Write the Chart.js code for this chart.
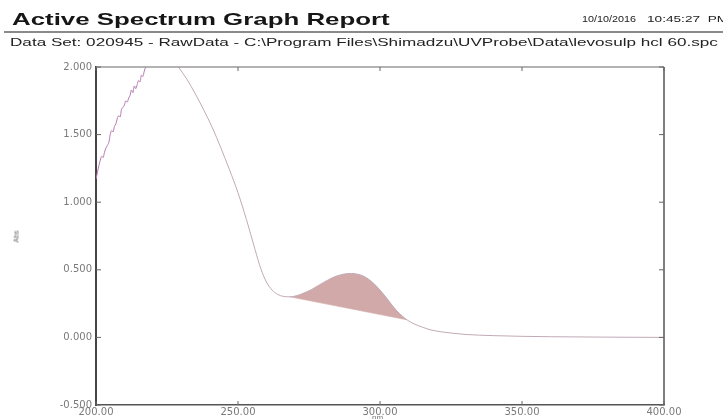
<!DOCTYPE html>
<html>
<head>
<meta charset="utf-8">
<script src="https://cdn.jsdelivr.net/npm/chart.js@4.4.0/dist/chart.umd.min.js"></script>
<style>
body { margin: 0; width: 723px; height: 419px; overflow: hidden; background: #fff; position: relative; font-family: "Liberation Sans", Arial, sans-serif; }
#spectrum { position: absolute; left: 0; top: 0; }
.txt { position: absolute; white-space: nowrap; transform-origin: 0 50%; line-height: 1; }
#rule { position: absolute; left: 4px; top: 31px; width: 723px; height: 2px; background: #8a8a8a; }
</style>
</head>
<body>
<canvas id="spectrum" width="723" height="419"></canvas>
<div class="txt" id="title" style="left:12px;top:11px;font-size:17px;font-weight:bold;color:#161616">Active Spectrum Graph Report</div>
<div class="txt" id="date1" style="left:582px;top:15px;font-size:9px;color:#222">10/10/2016</div>
<div class="txt" id="date2" style="left:647px;top:15px;font-size:9px;color:#222"><span id="time">10:45:27</span>&nbsp; PM</div>
<div id="rule"></div>
<div class="txt" id="dataset" style="left:10px;top:37px;font-size:11px;color:#222">Data Set: 020945 - RawData - C:\Program Files\Shimadzu\UVProbe\Data\levosulp hcl 60.spc</div>
<div class="txt" id="ylab" style="left:10px;top:233px;font-size:7px;color:#666;transform:rotate(-90deg);transform-origin:50% 50%">Abs</div>
<div class="txt" id="xlab" style="left:372px;top:414px;font-size:8px;color:#777">nm</div>
<script>
// spectrum (nm, Abs)
var wavelength = [200, 200.5, 201, 201.5, 202, 202.5, 203, 203.5, 204, 204.5, 205, 205.5, 206, 206.5, 207, 207.5, 208, 208.5, 209, 209.5,
    210, 210.5, 211, 211.5, 212, 212.5, 213, 213.5, 214, 214.5, 215, 215.5, 216, 216.5, 217, 217.5,
    218, 220, 223, 226, 228, 229, 232, 235, 238, 241, 244, 247, 250, 253, 256, 258, 260, 262, 264, 266,
    268.3, 270, 272, 274, 276, 278, 280, 282, 284, 286, 288, 290, 292, 294, 296, 298, 300, 302, 304, 306, 308, 309.5,
    312, 315, 318, 322, 326, 330, 340, 350, 360, 380, 400];
var absorbance = [1.17, 1.22, 1.27, 1.31, 1.34, 1.33, 1.37, 1.40, 1.42, 1.44, 1.50, 1.53, 1.52, 1.56, 1.58, 1.62, 1.64, 1.63, 1.69, 1.70,
    1.72, 1.75, 1.74, 1.77, 1.79, 1.83, 1.81, 1.86, 1.84, 1.87, 1.90, 1.89, 1.94, 1.93, 1.97, 2.00,
    2.03, 2.08, 2.12, 2.08, 2.03, 2.00, 1.91, 1.80, 1.68, 1.55, 1.40, 1.24, 1.07, 0.87, 0.65, 0.51, 0.41, 0.35, 0.318, 0.303,
    0.30, 0.305, 0.318, 0.335, 0.355, 0.38, 0.405, 0.428, 0.448, 0.462, 0.47, 0.473, 0.468, 0.455, 0.43, 0.395, 0.35, 0.30, 0.245, 0.195, 0.155, 0.13,
    0.10, 0.075, 0.055, 0.04, 0.03, 0.022, 0.013, 0.008, 0.005, 0.002, 0.0];

// peak baseline
var baseWl = [268.3, 309.5];
var baseAbs = [0.30, 0.13];

var xTicks = [200, 250, 300, 350, 400];
var yTicks = [-0.5, 0, 0.5, 1, 1.5, 2];

function fit(id, w) {
    var el = document.getElementById(id);
    el.style.transform = 'scaleX(' + (w / el.offsetWidth) + ')';
}
fit('title', 377);
fit('dataset', 708);
fit('date1', 54);
document.getElementById('date2').style.transform = 'scaleX(' + (53 / document.getElementById('time').offsetWidth) + ')';

var spectrumPts = wavelength.map(function (x, i) { return { x: x, y: absorbance[i] }; });
var peakPts = spectrumPts.filter(function (p) { return p.x >= baseWl[0] && p.x <= baseWl[1]; });
var basePts = baseWl.map(function (x, i) { return { x: x, y: baseAbs[i] }; });

var frame = {
    id: 'frame',
    afterDatasetsDraw: function (chart) {
        var a = chart.chartArea, c = chart.ctx;
        var xs = chart.scales.x, ys = chart.scales.y;
        c.save();
        c.strokeStyle = '#9a9a9a';
        c.lineWidth = 1.5;
        c.beginPath();
        c.moveTo(a.left, a.top);
        c.lineTo(a.right, a.top);
        c.stroke();
        c.strokeStyle = '#555';
        c.beginPath();
        c.moveTo(a.right, a.top);
        c.lineTo(a.right, a.bottom);
        c.stroke();
        c.lineWidth = 1;
        c.strokeStyle = '#666';
        c.beginPath();
        yTicks.forEach(function (v) {
            var y = ys.getPixelForValue(v);
            c.moveTo(a.left, y); c.lineTo(a.left + 5, y);
            c.moveTo(a.right, y); c.lineTo(a.right - 5, y);
        });
        xTicks.forEach(function (v) {
            var x = xs.getPixelForValue(v);
            c.moveTo(x, a.bottom); c.lineTo(x, a.bottom - 4);
            c.moveTo(x, a.top); c.lineTo(x, a.top + 4);
        });
        c.stroke();
        c.restore();
    }
};

var chart = new Chart(document.getElementById('spectrum').getContext('2d'), {
    type: 'line',
    data: {
        datasets: [{
            data: spectrumPts,
            borderWidth: 1,
            borderColor: '#c0a9b6',
            segment: {
                borderColor: function (ctx) { return ctx.p0.parsed.x < 218 ? '#b878b2' : '#c0a9b6'; }
            },
            pointRadius: 0,
            cubicInterpolationMode: 'monotone',
            fill: false
        }, {
            data: peakPts,
            borderWidth: 0,
            pointRadius: 0,
            cubicInterpolationMode: 'monotone',
            backgroundColor: '#d2a9a9',
            fill: { target: 2 }
        }, {
            data: basePts,
            borderWidth: 0.6,
            borderColor: '#c9a3a3',
            pointRadius: 0,
            fill: false
        }]
    },
    options: {
        responsive: false,
        animation: false,
        layout: { padding: { left: 0, top: 67, right: 59, bottom: 0 } },
        plugins: { legend: { display: false }, tooltip: { enabled: false } },
        scales: {
            x: {
                type: 'linear',
                min: 200,
                max: 400,
                afterBuildTicks: function (s) { s.ticks = xTicks.map(function (v) { return { value: v }; }); },
                afterFit: function (s) { s.height = 14; },
                ticks: {
                    callback: function (v) { return v.toFixed(2); },
                    font: { family: 'DejaVu Sans', size: 10 },
                    color: '#7a7a7a',
                    padding: 1,
                    autoSkip: false,
                    maxRotation: 0
                },
                grid: { display: false, drawTicks: false },
                border: { color: '#555', width: 1.5 }
            },
            y: {
                min: -0.5,
                max: 2,
                afterBuildTicks: function (s) { s.ticks = yTicks.map(function (v) { return { value: v }; }); },
                afterFit: function (s) { s.width = 96; },
                ticks: {
                    callback: function (v) { return v.toFixed(3); },
                    font: { family: 'DejaVu Sans', size: 10 },
                    color: '#7a7a7a',
                    padding: 4
                },
                grid: { display: false, drawTicks: false },
                border: { color: '#444', width: 2 }
            }
        }
    },
    plugins: [frame]
});
</script>
</body>
</html>
